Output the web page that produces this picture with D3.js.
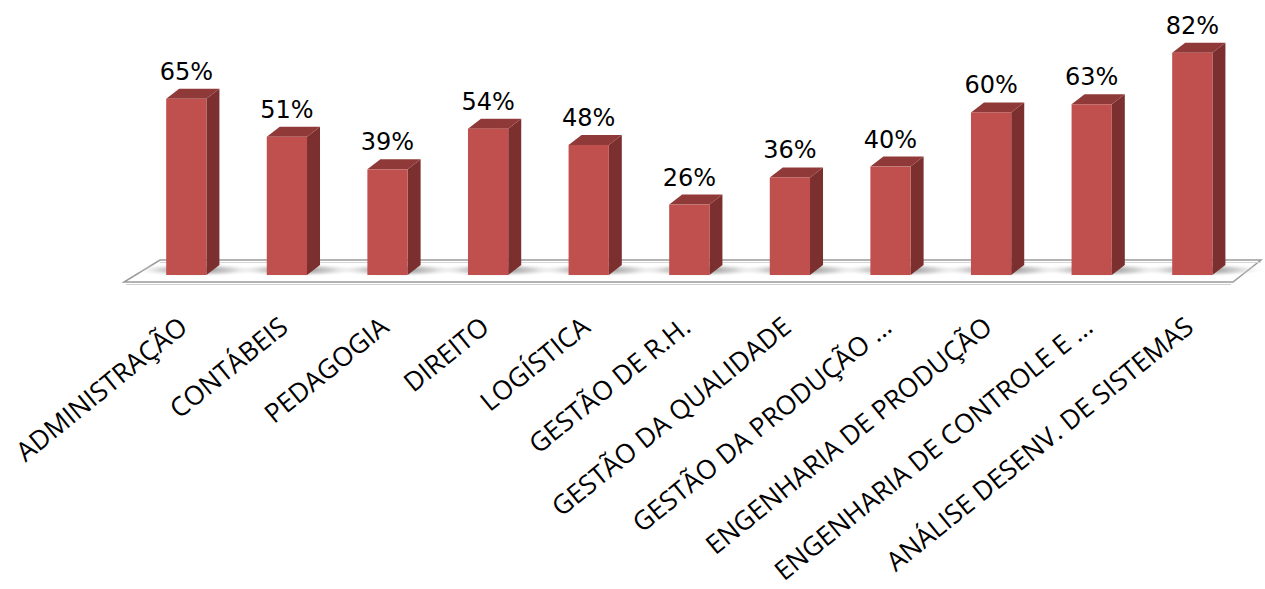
<!DOCTYPE html>
<html>
<head>
<meta charset="utf-8">
<script src="https://cdn.jsdelivr.net/npm/d3@7"></script>
<style>
  body { margin: 0; background: #fff; }
  svg { display: block; }
</style>
</head>
<body>
<div id="chart"></div>
<script>
const cursos = ["ADMINISTRAÇÃO", "CONTÁBEIS", "PEDAGOGIA", "DIREITO", "LOGÍSTICA",
  "GESTÃO DE R.H.", "GESTÃO DA QUALIDADE", "GESTÃO DA PRODUÇÃO ...",
  "ENGENHARIA DE PRODUÇÃO", "ENGENHARIA DE CONTROLE E ...", "ANÁLISE DESENV. DE SISTEMAS"]
const percentuais = [65, 51, 39, 54, 48, 26, 36, 40, 60, 63, 82]

const width = 1265
const height = 589
const base = 275      // front bottom of the bars
const dx = 13, dy = 10 // 3d depth

let svg = d3.select("#chart")
  .append("svg")
  .attr("width", width)
  .attr("height", height)

let x = d3.scaleBand()
  .domain(cursos)
  .range([136, 1242.6])
  .paddingInner(0.6)
  .paddingOuter(0.3)

let y = d3.scaleLinear()
  .domain([0, 100])
  .range([base, base - 271])

let defs = svg.append("defs")
let grad = defs.append("radialGradient").attr("id", "sombra")
grad.append("stop").attr("offset", "0%").attr("stop-color", "#6e6e6e").attr("stop-opacity", 0.9)
grad.append("stop").attr("offset", "55%").attr("stop-color", "#a8a8a8").attr("stop-opacity", 0.5)
grad.append("stop").attr("offset", "100%").attr("stop-color", "#ffffff").attr("stop-opacity", 0)

// floor
let floor = svg.append("g")
floor.append("polygon")
  .attr("points", [[124, 282], [1233, 282], [1261, 260], [160, 260]].join(" "))
  .attr("fill", "#ffffff")
  .attr("stroke", "#9a9a9a")
  .attr("stroke-width", 1.5)
floor.append("line")
  .attr("x1", 126).attr("x2", 1231).attr("y1", 284.5).attr("y2", 284.5)
  .attr("stroke", "#d0d0d0").attr("stroke-width", 1.2)
floor.append("line")
  .attr("x1", 160).attr("x2", 1261).attr("y1", 262.5).attr("y2", 262.5)
  .attr("stroke", "#d6d6d6").attr("stroke-width", 1.2)

// shadows on the floor
floor.selectAll("ellipse")
  .data(cursos)
  .join("ellipse")
  .attr("cx", d => x(d) + x.bandwidth() / 2 + 10)
  .attr("cy", base - 5)
  .attr("rx", 64)
  .attr("ry", 7)
  .attr("fill", "url(#sombra)")

let bars = svg.append("g")
  .selectAll("g")
  .data(cursos)
  .join("g")

bars.append("polygon") // side
  .attr("points", (d, i) => {
    let x1 = x(d) + x.bandwidth(), t = y(percentuais[i])
    return [[x1, t], [x1 + dx, t - dy], [x1 + dx, base - dy], [x1, base]].join(" ")
  })
  .attr("fill", "#7b302f")

bars.append("polygon") // top
  .attr("points", (d, i) => {
    let x0 = x(d), x1 = x0 + x.bandwidth(), t = y(percentuais[i])
    return [[x0, t], [x0 + dx, t - dy], [x1 + dx, t - dy], [x1, t]].join(" ")
  })
  .attr("fill", "#8f3a38")

bars.append("rect") // front
  .attr("x", d => x(d))
  .attr("y", (d, i) => y(percentuais[i]))
  .attr("width", x.bandwidth())
  .attr("height", (d, i) => base - y(percentuais[i]))
  .attr("fill", "#c0504d")

// value labels
svg.append("g")
  .selectAll("text")
  .data(cursos)
  .join("text")
  .attr("x", d => x(d) + x.bandwidth() / 2)
  .attr("y", (d, i) => y(percentuais[i]) - 19)
  .attr("text-anchor", "middle")
  .style("font-family", "'DejaVu Sans', sans-serif")
  .style("font-size", "24px")
  .attr("fill", "#000")
  .text((d, i) => percentuais[i] + "%")

// category labels
svg.append("g")
  .selectAll("text")
  .data(cursos)
  .join("text")
  .attr("transform", d => "translate(" + (x(d) + x.bandwidth() / 2 + 3) + ",330) rotate(-39)")
  .attr("text-anchor", "end")
  .style("font-family", "'Open Sans', sans-serif")
  .style("font-size", "26.5px")
  .attr("fill", "#000")
  .text(d => d)
</script>
</body>
</html>
